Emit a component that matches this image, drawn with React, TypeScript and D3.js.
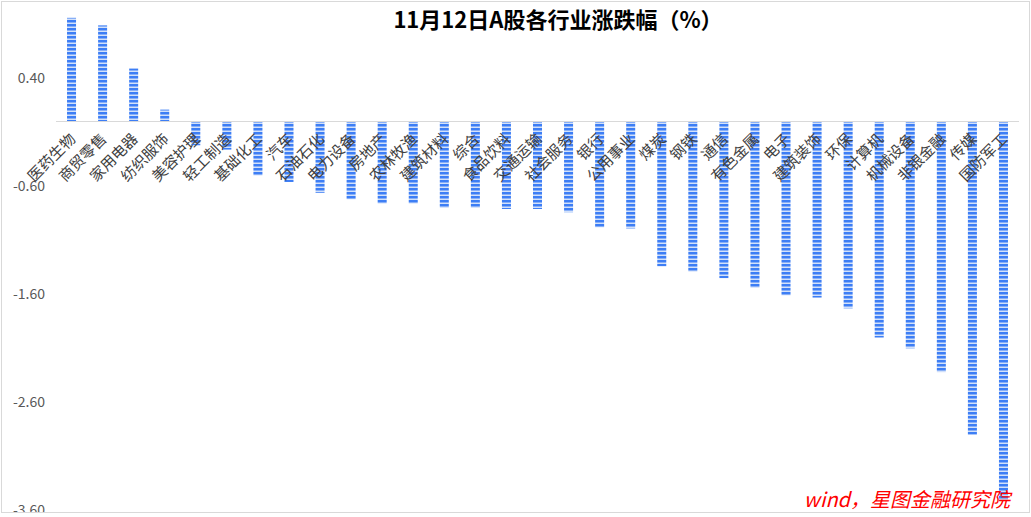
import React from "react";
import * as d3 from "d3";

const categories = ["医药生物","商贸零售","家用电器","纺织服饰","美容护理","轻工制造","基础化工","汽车","石油石化","电力设备","房地产","农林牧渔","建筑材料","综合","食品饮料","交通运输","社会服务","银行","公用事业","煤炭","钢铁","通信","有色金属","电子","建筑装饰","环保","计算机","机械设备","非银金融","传媒","国防军工"];
const values = [0.96,0.89,0.49,0.11,-0.22,-0.26,-0.50,-0.56,-0.66,-0.72,-0.76,-0.76,-0.80,-0.80,-0.81,-0.81,-0.84,-0.98,-0.99,-1.34,-1.39,-1.45,-1.54,-1.61,-1.63,-1.73,-2.00,-2.10,-2.32,-2.90,-3.51];
const yTicks = [0.4,-0.6,-1.6,-2.6,-3.6];
const title = "11月12日A股各行业涨跌幅（%）";
const source = "wind，星图金融研究院";

const W = 1031, H = 513;

export default function App() {
  const x = d3.scaleBand<string>().domain(categories).range([56, 1019]).paddingInner(0.71).paddingOuter(0.355);
  const y = d3.scaleLinear().domain([-3.6, 1.0]).range([121.5 + 3.6 * 108, 121.5 - 108]);
  const font = "'Noto Sans CJK SC', 'Noto Sans', sans-serif";
  return (
    <svg width={W} height={H} style={{ position: "absolute", left: 0, top: 0, overflow: "hidden" }}>
      <defs>
        <pattern id="stripe" patternUnits="userSpaceOnUse" width={12} height={4}>
          <rect x={0} y={0} width={12} height={4} fill="#d3e1f9" />
          <rect x={0} y={0} width={12} height={2.5} fill="#3d7ef5" />
        </pattern>
      </defs>
      <rect x={0} y={0} width={W} height={H} fill="#fff" />
      <text x={558} y={28} textAnchor="middle" fontFamily={font} fontWeight="bold" fontSize={22} fill="#000">{title}</text>
      {yTicks.map((t) => (
        <text key={t} x={45} y={y(t)} dy="0.35em" textAnchor="end" fontFamily={font} fontSize={14} fill="#595959">{t.toFixed(2)}</text>
      ))}
      {categories.map((c, i) => {
        const v = values[i];
        const y0 = y(0), y1 = y(v);
        return <rect key={c} x={x(c)} y={Math.min(y0, y1)} width={x.bandwidth()} height={Math.abs(y1 - y0)} fill="url(#stripe)" />;
      })}
      <line x1={56} x2={1019} y1={y(0)} y2={y(0)} stroke="#d9d9d9" strokeWidth={1} />
      {categories.map((c) => {
        const cx = (x(c) as number) + x.bandwidth() / 2;
        return (
          <text key={c} transform={`translate(${cx + 5},${140}) rotate(-45)`} textAnchor="end" fontFamily={font} fontSize={15} fill="#404040">{c}</text>
        );
      })}
      <text x={1010} y={507} textAnchor="end" fontFamily={font} fontStyle="italic" fontSize={20} fill="#ff0000">{source}</text>
      <rect x={1.5} y={1.5} width={1028} height={511} fill="none" stroke="#d9d9d9" strokeWidth={1} />
    </svg>
  );
}
